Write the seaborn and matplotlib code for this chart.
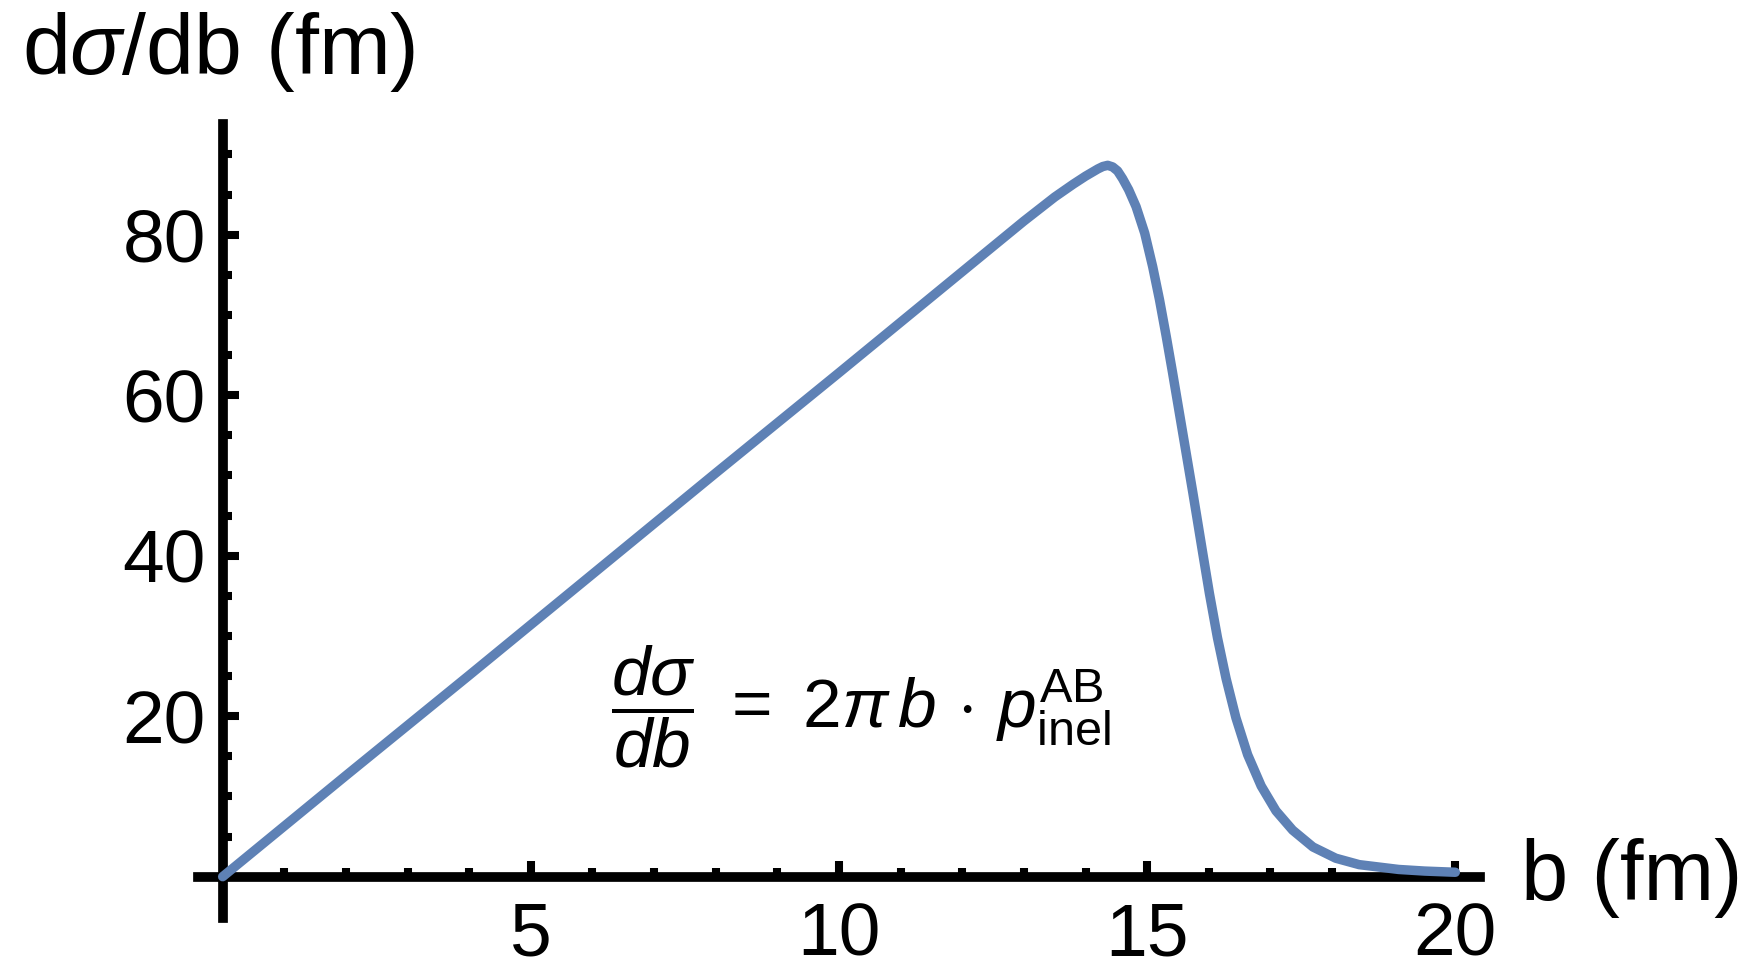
import numpy as np
import pandas as pd
import matplotlib
matplotlib.use("Agg")
import matplotlib.pyplot as plt
import seaborn as sns

# Differential inelastic cross section vs impact parameter
b_fm = [0.0, 2.0, 4.0, 6.0, 8.0, 10.0, 12.0, 13.0, 13.5, 13.8, 14.0, 14.1,
        14.2, 14.28, 14.36, 14.44, 14.52, 14.6, 14.7, 14.82, 14.96, 15.09,
        15.2, 15.31, 15.41, 15.52, 15.63, 15.74, 15.8, 15.9, 16.01, 16.14,
        16.28, 16.44, 16.63, 16.85, 17.09, 17.36, 17.69, 18.06, 18.44, 19.08,
        19.5, 20.0]
dsigma_db = [0.0, 12.6, 25.1, 37.7, 50.3, 62.8, 75.4, 81.7, 84.7, 86.3, 87.3,
             87.75, 88.2, 88.5, 88.65, 88.45, 87.95, 87.0, 85.6, 83.5, 80.2, 76.0,
             71.9, 67.3, 62.9, 57.9, 52.9, 47.9, 45.1, 40.4, 35.3, 29.8,
             24.7, 19.8, 15.2, 11.3, 8.2, 5.8, 3.7, 2.3, 1.5, 0.9,
             0.7, 0.55]

x_major = [5, 10, 15, 20]
x_minor = [1, 2, 3, 4, 6, 7, 8, 9, 11, 12, 13, 14, 16, 17, 18, 19]
y_major = [20, 40, 60, 80]
y_minor = [5, 10, 15, 25, 30, 35, 45, 50, 55, 65, 70, 75, 85, 90]

df = pd.DataFrame({"b": b_fm, "dsdb": dsigma_db})

sns.set_theme(style="white")
plt.rcParams["font.family"] = ["Liberation Sans", "DejaVu Sans"]
plt.rcParams["mathtext.fontset"] = "custom"
plt.rcParams["mathtext.rm"] = "Liberation Sans"
plt.rcParams["mathtext.sf"] = "Liberation Sans"
plt.rcParams["mathtext.it"] = "Liberation Sans:italic"
plt.rcParams["mathtext.bf"] = "Liberation Sans:bold"
plt.rcParams["text.color"] = "black"
plt.rcParams["xtick.color"] = "black"
plt.rcParams["ytick.color"] = "black"

W, H = 1750, 964
fig = plt.figure(figsize=(W / 100, H / 100), dpi=100)
fig.patch.set_facecolor("white")

# axes box: x from -0.4 to 20.4, y from -5.1 to 93.8
left_px, right_px = 198, 1480
top_px, bottom_px = 124, 917.6
ax = fig.add_axes([left_px / W, (H - bottom_px) / H,
                   (right_px - left_px) / W, (bottom_px - top_px) / H])
ax.set_facecolor("white")

sns.lineplot(data=df, x="b", y="dsdb", ax=ax, color="#5E81B5", lw=6.8,
             solid_joinstyle="round", solid_capstyle="round", zorder=3)

ax.set_xlim(-0.4, 20.4)
ax.set_ylim(-5.1, 93.8)

for s in ["top", "right"]:
    ax.spines[s].set_visible(False)
for s in ["left", "bottom"]:
    ax.spines[s].set_position(("data", 0))
    ax.spines[s].set_linewidth(7.0)
    ax.spines[s].set_color("black")
    ax.spines[s].set_zorder(2)

ax.set_xticks(x_major)
ax.set_xticks(x_minor, minor=True)
ax.set_yticks(y_major)
ax.set_yticks(y_minor, minor=True)
ax.set_xticklabels([str(v) for v in x_major])
ax.set_yticklabels([str(v) for v in y_major])

ax.tick_params(axis="x", which="major", direction="in", length=11.5, width=5.8,
               color="black", labelcolor="black", labelsize=54, pad=18,
               bottom=True)
ax.tick_params(axis="x", which="minor", direction="in", length=6.8, width=5.8,
               color="black", bottom=True)
ax.tick_params(axis="y", which="major", direction="in", length=11.5, width=5.8,
               color="black", labelcolor="black", labelsize=54, pad=12,
               left=True)
ax.tick_params(axis="y", which="minor", direction="in", length=6.8, width=5.8,
               color="black", left=True)
ax.set_xlabel("")
ax.set_ylabel("")
ax.grid(False)

fig.text(22 / W, (H - 52) / H, r"d$\sigma$/db (fm)", fontsize=62,
         ha="left", va="center", color="black")
fig.text(1521 / W, (H - 878) / H, "b (fm)", fontsize=61,
         ha="left", va="center", color="black")
fig.text(861 / W, (H - 707) / H,
         r"$\dfrac{d\sigma}{db}\ =\ 2\pi\,b\,\cdot\,p^{\mathrm{AB}}_{\mathrm{inel}}$",
         fontsize=50, ha="center", va="center", color="black")

fig.savefig("out.png", dpi=100, facecolor="white")
